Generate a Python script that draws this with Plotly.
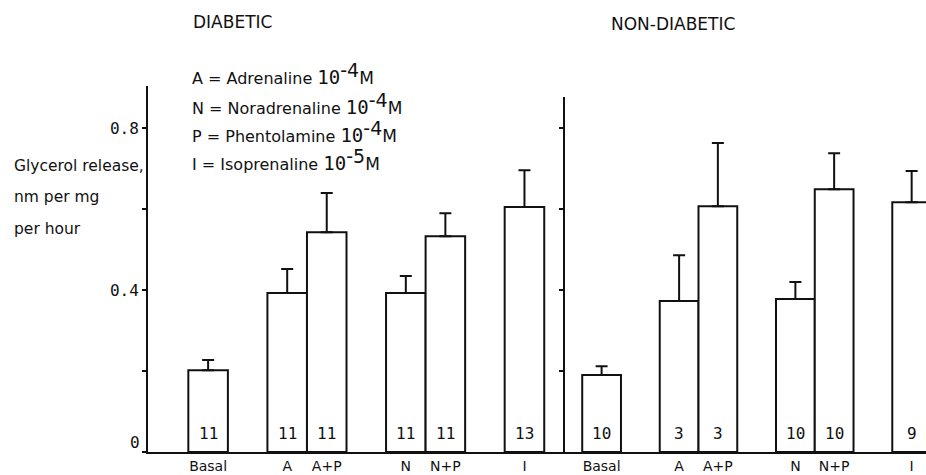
import plotly.graph_objects as go

# ---- data ----
categories = ["Basal", "A", "A+P", "N", "N+P", "I"]
slots = [0, 2, 3, 5, 6, 8]
diabetic_mean = [0.202, 0.393, 0.543, 0.393, 0.533, 0.605]
diabetic_top = [0.227, 0.452, 0.640, 0.435, 0.590, 0.696]
diabetic_n = ["11", "11", "11", "11", "11", "13"]
nondiabetic_mean = [0.190, 0.373, 0.607, 0.378, 0.649, 0.617]
nondiabetic_top = [0.212, 0.486, 0.763, 0.420, 0.738, 0.694]
nondiabetic_n = ["10", "3", "3", "10", "10", "9"]
y_ticks = [0, 0.2, 0.4, 0.6, 0.8]
y_ticktext = ["", "", "0.4", "", "0.8"]
legend_keys = ["A", "N", "P", "I"]
legend_names = ["Adrenaline", "Noradrenaline", "Phentolamine", "Isoprenaline"]
legend_exps = ["-4", "-4", "-4", "-5"]
ytitle_lines = ["Glycerol release,", "nm per mg", "per hour"]

W, H = 926, 475
L, R, T, B = 148, 0, 86, 23
PW, PH = W - L - R, H - T - B
YMAX = 0.904

def px(x):
    return (x - L) / PW

def py(y):
    return (H - B - y) / PH

SANS = "DejaVu Sans"
MONO = "DejaVu Sans Mono"
BLACK = "#111111"

fig = go.Figure()

def add_panel(means, tops, ns, xa, ya):
    fig.add_trace(go.Bar(
        x=slots, y=means, width=1.0,
        marker=dict(color="white", line=dict(color=BLACK, width=2)),
        error_y=dict(type="data", symmetric=False,
                     array=[t - m for t, m in zip(tops, means)],
                     arrayminus=[0] * len(means),
                     color=BLACK, thickness=2, width=6),
        xaxis=xa, yaxis=ya, showlegend=False, hoverinfo="skip",
    ))
    for s, n in zip(slots, ns):
        fig.add_annotation(x=s, y=0, xref=xa, yref=ya, text=n, showarrow=False,
                           xanchor="center", yanchor="bottom", yshift=7,
                           font=dict(family=MONO, size=16, color=BLACK))

add_panel(diabetic_mean, diabetic_top, diabetic_n, "x", "y")
add_panel(nondiabetic_mean, nondiabetic_top, nondiabetic_n, "x2", "y2")

split = px(564)
xcommon = dict(showline=True, linecolor=BLACK, linewidth=2, ticks="",
               tickvals=slots, ticktext=categories, showgrid=False, zeroline=False,
               tickfont=dict(family=SANS, size=14, color=BLACK))
fig.update_layout(
    width=W, height=H, margin=dict(l=L, r=R, t=T, b=B),
    paper_bgcolor="white", plot_bgcolor="white",
    xaxis=dict(domain=[0, split], range=[-1.52, 9.0], anchor="y", **xcommon),
    xaxis2=dict(domain=[split, 1], range=[-0.97, 8.37], anchor="y2", **xcommon),
    yaxis=dict(range=[0, YMAX], showline=True, linecolor=BLACK, linewidth=2,
               ticks="outside", ticklen=4, tickwidth=2, tickcolor=BLACK,
               tickvals=y_ticks, ticktext=y_ticktext, showgrid=False, zeroline=False,
               tickfont=dict(family=MONO, size=16, color=BLACK), anchor="x"),
    yaxis2=dict(range=[0, YMAX], showline=False, anchor="x2",
                ticks="outside", ticklen=4, tickwidth=2, tickcolor=BLACK,
                tickvals=y_ticks[1:], showticklabels=False, showgrid=False, zeroline=False),
)

# "0" label sits slightly above the baseline in the original
fig.add_annotation(x=px(142), y=py(442), xref="paper", yref="paper", text="0",
                   showarrow=False, xanchor="right", yanchor="middle",
                   font=dict(family=MONO, size=16, color=BLACK))

# right panel vertical axis line (shorter than the left one)
fig.add_shape(type="line", xref="x2 domain", yref="y2", x0=0, x1=0, y0=0, y1=0.877,
              line=dict(color=BLACK, width=2))

# panel titles
fig.add_annotation(x=px(232), y=py(22), xref="paper", yref="paper", text="DIABETIC",
                   showarrow=False, xanchor="center", yanchor="middle",
                   font=dict(family=SANS, size=17, color=BLACK))
fig.add_annotation(x=px(673), y=py(24), xref="paper", yref="paper", text="NON-DIABETIC",
                   showarrow=False, xanchor="center", yanchor="middle",
                   font=dict(family=SANS, size=17, color=BLACK))

# legend text
for i, (k, nm, ex) in enumerate(zip(legend_keys, legend_names, legend_exps)):
    txt = (f"{k} = {nm} "
           f"<span style='font-family:{MONO};font-size:19px'>10</span>"
           f"<sup><span style='font-size:19px'>{ex}</span></sup>"
           f"<span style='font-size:17px'>M</span>")
    fig.add_annotation(x=px(190), y=py([74, 103, 131, 159][i]), xref="paper", yref="paper",
                       text=txt, showarrow=False, xanchor="left", yanchor="middle",
                       font=dict(family=SANS, size=16, color=BLACK))

# y-axis title lines
for i, line in enumerate(ytitle_lines):
    fig.add_annotation(x=px(12), y=py([166, 197, 229][i]), xref="paper", yref="paper",
                       text=line, showarrow=False, xanchor="left", yanchor="middle",
                       font=dict(family=SANS, size=15.5, color=BLACK))

fig.write_html("out.html")
